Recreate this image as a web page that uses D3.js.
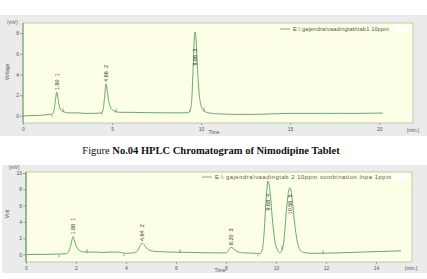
<!DOCTYPE html>
<html>
<head>
<meta charset="utf-8">
<script src="https://cdn.jsdelivr.net/npm/d3@7"></script>
<style>
  html, body { margin: 0; padding: 0; background: #fff; }
  svg { display: block; }
  .tick text { font-family: "Liberation Sans", Arial, sans-serif; font-size: 5px; fill: #555; }
  .small { font-family: "Liberation Sans", Arial, sans-serif; font-size: 5px; fill: #555; }
  .plabel { font-family: "Liberation Sans", Arial, sans-serif; font-size: 5.5px; fill: #333; white-space: pre; }
</style>
</head>
<body>
<svg id="chart" width="427" height="279"></svg>
<script>
// chromatogram traces, [time (min), signal (mV)]
const topTrace = [
  [0, 0], [0.8, 0.05], [1.5, 0.15], [1.65, 0.2], [1.75, 0.6], [1.82, 1.5], [1.9, 2.3],
  [1.97, 1.6], [2.05, 0.9], [2.15, 0.55], [2.3, 0.4], [2.5, 0.3], [3.0, 0.3], [3.5, 0.25],
  [4.0, 0.25], [4.4, 0.3], [4.5, 0.6], [4.58, 1.8], [4.66, 3.1], [4.74, 2.3], [4.82, 1.4],
  [4.92, 0.8], [5.05, 0.55], [5.25, 0.4], [5.5, 0.35], [6, 0.35], [7, 0.32], [8, 0.3],
  [9, 0.3], [9.3, 0.32], [9.45, 1.0], [9.55, 4.5], [9.62, 7.5], [9.66, 8.1], [9.72, 7.3],
  [9.8, 4.5], [9.9, 2.0], [10.0, 1.0], [10.1, 0.6], [10.3, 0.35], [10.6, 0.25], [11, 0.2],
  [12, 0.15], [13, 0.15], [14, 0.2], [15, 0.25], [16, 0.25], [17, 0.25], [18, 0.25],
  [19, 0.25], [20.2, 0.28]
];
const bottomTrace = [
  [0, 0], [0.8, 0.02], [1.2, 0.05], [1.6, 0.1], [1.7, 0.3], [1.78, 1.0], [1.84, 1.8],
  [1.88, 2.2], [1.93, 1.8], [2.0, 1.1], [2.1, 0.6], [2.25, 0.35], [2.4, 0.3], [2.8, 0.3],
  [3.0, 0.25], [3.4, 0.3], [3.7, 0.3], [3.95, 0.15], [4.3, 0.2], [4.45, 0.4], [4.55, 1.0],
  [4.64, 1.4], [4.72, 1.2], [4.85, 0.7], [5.0, 0.45], [5.3, 0.35], [5.8, 0.3], [6.6, 0.25],
  [7.5, 0.2], [8.0, 0.2], [8.1, 0.5], [8.2, 0.9], [8.3, 0.7], [8.45, 0.35], [8.7, 0.2],
  [9.2, 0.15], [9.35, 0.1], [9.45, 0.6], [9.52, 2.5], [9.6, 6.5], [9.68, 9.0], [9.76, 7.8],
  [9.85, 4.5], [9.95, 1.8], [10.05, 0.6], [10.15, 0.25], [10.22, 0.4], [10.32, 1.8],
  [10.42, 5.5], [10.52, 8.0], [10.56, 8.2], [10.64, 7.0], [10.74, 4.0], [10.85, 1.6],
  [10.95, 0.6], [11.1, 0.25], [11.4, 0.15], [12.5, 0.2], [13.5, 0.3], [14.5, 0.4], [15.0, 0.45]
];

// peaks: [retention time, peak number]
const topPeaks = [[1.90, 1], [4.66, 2], [9.66, 3]];
const bottomPeaks = [[1.88, 1], [4.64, 2], [8.20, 3], [9.68, 4], [10.56, 5]];

// integration marks: [time, direction] (-1 below trace, 1 above)
const topMarks = [[1.63, -1], [2.25, 1], [4.44, -1], [5.22, 1], [9.38, -1], [10.17, 1]];
const bottomMarks = [[1.32, -1], [2.44, 1], [3.92, -1], [6.16, 1], [9.28, -1], [10.24, 1], [11.88, 1]];

const topTicksX = [0, 5, 10, 15, 20];
const topTicksY = [0, 2, 4, 6, 8];
const bottomTicksX = [0, 2, 4, 6, 8, 10, 12, 14];
const bottomTicksY = [0, 2, 4, 6, 8, 10];

const topLegend = 'E:\\ gajendra\\vaadingtab\\tab1 10ppm';
const bottomLegend = 'E:\\ gajendra\\vaadingtab 2 10ppm combination  lnpa 1ppm';
const captionPlain = 'Figure ';
const captionBold = 'No.04 HPLC Chromatogram of Nimodipine Tablet';

const TRACE_COLOR = '#52a064';
const PLOT_BG = '#fdfee6';
const PANEL_BG = '#ebebeb';
const BORDER = '#a9c6a0';

const svg = d3.select('#chart');

function drawChart(cfg) {
  const g = svg.append('g');

  g.append('rect')
    .attr('x', cfg.panel[0]).attr('y', cfg.panel[1])
    .attr('width', cfg.panel[2]).attr('height', cfg.panel[3])
    .attr('fill', PANEL_BG);

  const x = d3.scaleLinear().domain(cfg.xDomain).range([cfg.left, cfg.right]);
  const y = d3.scaleLinear().domain(cfg.yDomain).range([cfg.bottom, cfg.top]);

  g.append('rect')
    .attr('x', cfg.left).attr('y', cfg.top)
    .attr('width', cfg.right - cfg.left).attr('height', cfg.bottom - cfg.top)
    .attr('fill', PLOT_BG).attr('stroke', BORDER).attr('stroke-width', 0.8);

  g.append('line')
    .attr('x1', cfg.left).attr('x2', cfg.left)
    .attr('y1', cfg.top).attr('y2', cfg.bottom)
    .attr('stroke', cfg.axisColor).attr('stroke-width', 1);

  const xAxis = g.append('g')
    .attr('transform', `translate(0,${cfg.bottom})`)
    .call(d3.axisBottom(x).tickValues(cfg.ticksX).tickSize(2).tickPadding(2));
  const yAxis = g.append('g')
    .attr('transform', `translate(${cfg.left},0)`)
    .call(d3.axisLeft(y).tickValues(cfg.ticksY).tickSize(3).tickPadding(1));
  [xAxis, yAxis].forEach(a => {
    a.select('.domain').remove();
    a.selectAll('.tick line').attr('stroke', '#777').attr('stroke-width', 0.6);
  });

  // trace
  g.append('path')
    .datum(cfg.trace)
    .attr('fill', 'none')
    .attr('stroke', TRACE_COLOR)
    .attr('stroke-width', 0.9)
    .attr('d', d3.line().x(d => x(d[0])).y(d => y(d[1])).curve(d3.curveMonotoneX));

  // integration marks
  const valueAt = t => {
    const i = d3.bisector(d => d[0]).left(cfg.trace, t);
    const a = cfg.trace[Math.max(0, i - 1)], b = cfg.trace[Math.min(cfg.trace.length - 1, i)];
    if (a === b || b[0] === a[0]) return a[1];
    return a[1] + (b[1] - a[1]) * (t - a[0]) / (b[0] - a[0]);
  };
  g.selectAll('.mark')
    .data(cfg.marks)
    .join('line')
    .attr('x1', d => x(d[0])).attr('x2', d => x(d[0]))
    .attr('y1', d => y(valueAt(d[0])) - (d[1] > 0 ? 3 : -1))
    .attr('y2', d => y(valueAt(d[0])) + (d[1] > 0 ? 1 : 3))
    .attr('stroke', '#4a6f52').attr('stroke-width', 0.6);

  // peak labels
  g.selectAll('.plabel')
    .data(cfg.peaks)
    .join('text')
    .attr('class', 'plabel')
    .attr('transform', d => {
      const h = valueAt(d[0]);
      const py = h > 5 ? y(h * 0.6) : y(h) - 2;
      return `translate(${x(d[0]) + 2},${py}) rotate(-90)`;
    })
    .text(d => `${d[0].toFixed(2)}  ${d[1]}`);

  // legend
  g.append('line')
    .attr('x1', cfg.legend[0]).attr('x2', cfg.legend[0] + 10)
    .attr('y1', cfg.legend[1]).attr('y2', cfg.legend[1])
    .attr('stroke', TRACE_COLOR).attr('stroke-width', 0.8);
  g.append('text')
    .attr('class', 'small')
    .attr('x', cfg.legend[0] + 13).attr('y', cfg.legend[1] + 1.8)
    .style('font-size', cfg.legendSize + 'px')
    .attr('textLength', cfg.legendWidth)
    .attr('lengthAdjust', 'spacing')
    .text(cfg.legendText);
  g.append('rect')
    .attr('x', cfg.right - 18).attr('y', cfg.legend[1] - 3)
    .attr('width', 13).attr('height', 6)
    .attr('fill', '#fff');

  // axis titles
  g.append('text').attr('class', 'small')
    .attr('x', cfg.unitPos[0]).attr('y', cfg.unitPos[1])
    .text(cfg.unit);
  g.append('text').attr('class', 'small')
    .attr('transform', `translate(${cfg.yTitlePos[0]},${cfg.yTitlePos[1]}) rotate(-90)`)
    .attr('text-anchor', 'middle')
    .text(cfg.yTitle);
  g.append('text').attr('class', 'small')
    .attr('x', cfg.timePos[0]).attr('y', cfg.timePos[1])
    .attr('text-anchor', 'middle')
    .text('Time');
  g.append('text').attr('class', 'small')
    .attr('x', cfg.minPos[0]).attr('y', cfg.minPos[1])
    .text('[min.]');
}

drawChart({
  panel: [0, 15, 427, 121],
  left: 23, right: 413, top: 23, bottom: 123,
  xDomain: [0, 21.9], yDomain: [-0.68, 8.96],
  ticksX: topTicksX, ticksY: topTicksY,
  trace: topTrace, peaks: topPeaks, marks: topMarks,
  axisColor: '#6f9a6f',
  legend: [280, 29], legendText: topLegend, legendSize: 5.6, legendWidth: 96,
  unit: '(mV)', unitPos: [7, 24],
  yTitle: 'Voltage', yTitlePos: [9, 72],
  timePos: [214, 134], minPos: [407, 132]
});

drawChart({
  panel: [2, 165, 425, 108],
  left: 26, right: 412, top: 172, bottom: 262,
  xDomain: [0, 15.44], yDomain: [-0.92, 10.12],
  ticksX: bottomTicksX, ticksY: bottomTicksY,
  trace: bottomTrace, peaks: bottomPeaks, marks: bottomMarks,
  axisColor: '#3f9a3f',
  legend: [202, 177], legendText: bottomLegend, legendSize: 5.8, legendWidth: 176,
  unit: '[mV]', unitPos: [9, 169],
  yTitle: 'Volt', yTitlePos: [9, 214],
  timePos: [220, 272], minPos: [405, 270]
});

// caption
const cap = svg.append('text')
  .attr('x', 211).attr('y', 154)
  .attr('text-anchor', 'middle')
  .style('font-family', '"Liberation Serif", "Times New Roman", serif')
  .style('font-size', '10.5px')
  .attr('fill', '#111');
cap.append('tspan').text(captionPlain);
cap.append('tspan').style('font-weight', 'bold').text(captionBold);
</script>
</body>
</html>
